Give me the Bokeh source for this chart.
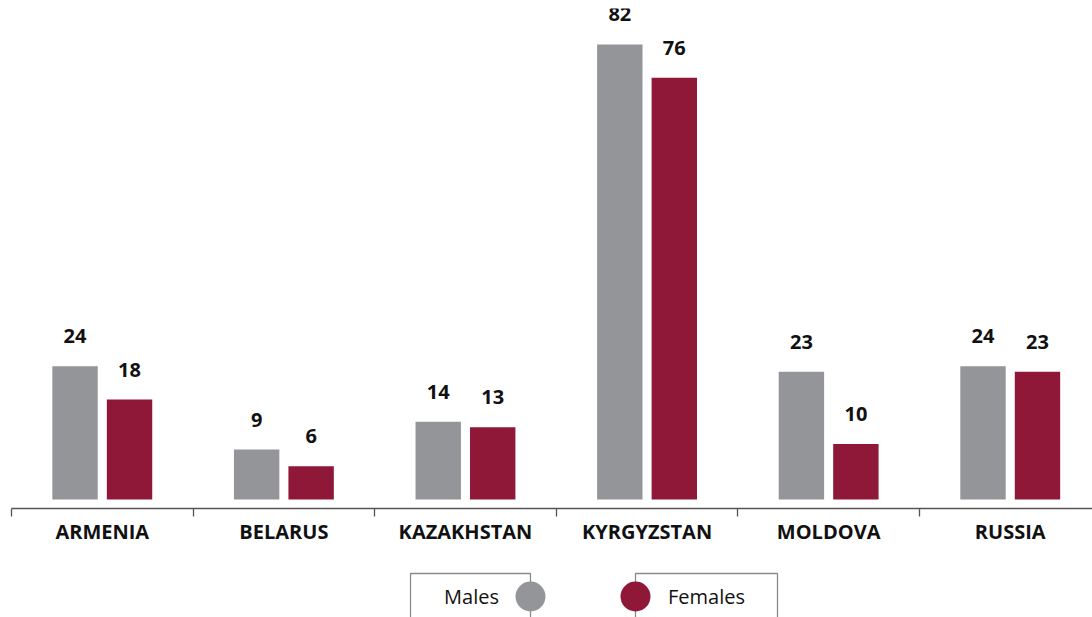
from bokeh.plotting import figure
from bokeh.models import ColumnDataSource, LabelSet, LinearAxis, FixedTicker, Range1d
from bokeh.layouts import column
from bokeh.core.properties import value
from bokeh.embed import file_html
from bokeh.resources import INLINE

# ---- data ----
countries = ["ARMENIA", "BELARUS", "KAZAKHSTAN", "KYRGYZSTAN", "MOLDOVA", "RUSSIA"]
males = [24, 9, 14, 82, 23, 24]
females = [18, 6, 13, 76, 10, 23]
series_names = ["Males", "Females"]

GRAY = "#939598"
MAROON = "#8F1838"
FONT = "Open Sans"

idx = list(range(len(countries)))
src_m = ColumnDataSource(dict(x=[i + 0.5 - 0.15 for i in idx], top=males,
                              lab=[str(v) for v in males]))
src_f = ColumnDataSource(dict(x=[i + 0.5 + 0.15 for i in idx], top=females,
                              lab=[str(v) for v in females]))

W = 1092
LEFT = 11
p = figure(width=W, height=560, output_backend="svg", toolbar_location=None,
           x_axis_type=None, y_axis_type=None,
           x_range=Range1d(0, 5.953), y_range=Range1d(-1.62, 88.47),
           min_border_left=LEFT, min_border_right=0, min_border_top=8,
           min_border_bottom=52)
p.outline_line_color = None
p.xgrid.visible = False
p.ygrid.visible = False

p.vbar(x="x", top="top", bottom=0, width=0.25, source=src_m, color=GRAY, line_color=None)
p.vbar(x="x", top="top", bottom=0, width=0.25, source=src_f, color=MAROON, line_color=None)

for s in (src_m, src_f):
    p.add_layout(LabelSet(x="x", y="top", text="lab", source=s, y_offset=23,
                          text_align="center", text_baseline="alphabetic",
                          text_font=value(FONT), text_font_style="bold",
                          text_font_size="20px", text_color="#111111"))

# tick axis with boundary ticks
ax1 = LinearAxis(ticker=FixedTicker(ticks=[i for i in range(len(countries) + 1)]))
ax1.axis_line_color = "#555555"
ax1.axis_line_width = 1.3
ax1.major_tick_line_color = "#555555"
ax1.major_tick_line_width = 1.3
ax1.major_tick_out = 8
ax1.major_tick_in = 0
ax1.minor_tick_line_color = None
ax1.major_label_text_font_size = "0px"
ax1.major_label_text_alpha = 0
ax1.major_label_standoff = 0
p.add_layout(ax1, "below")

# label axis with category names
ax2 = LinearAxis(ticker=FixedTicker(ticks=[i + 0.5 for i in idx]))
ax2.major_label_overrides = {i + 0.5: c for i, c in enumerate(countries)}
ax2.axis_line_color = None
ax2.major_tick_line_color = None
ax2.minor_tick_line_color = None
ax2.major_tick_out = 0
ax2.major_tick_in = 0
ax2.major_label_standoff = 1
ax2.major_label_text_font = FONT
ax2.major_label_text_font_style = "bold"
ax2.major_label_text_font_size = "20px"
ax2.major_label_text_color = "#111111"
p.add_layout(ax2, "below")

# ---- legend strip ----
LH = 57
leg = figure(width=W, height=LH, output_backend="svg", toolbar_location=None,
             x_axis_type=None, y_axis_type=None,
             x_range=Range1d(LEFT, W), y_range=Range1d(0, LH),
             min_border_left=LEFT, min_border_right=0, min_border_top=0, min_border_bottom=0)
leg.outline_line_color = None
leg.xgrid.visible = False
leg.ygrid.visible = False

box_top = 44
mid = 21
boxes = [(410, 530), (635, 777)]  # left/right edges of the two legend frames
circ_x = [530, 635]
text_x = [471, 706]
for (l, r) in boxes:
    leg.line([l, l, r, r], [-2, box_top, box_top, -2], line_color="#8a8a8a", line_width=1.3)
leg.scatter(circ_x, [mid, mid], size=30, marker="circle",
            fill_color=[GRAY, MAROON], line_color=None)
leg.text(text_x, [mid, mid], text=series_names, text_align="center",
         text_baseline="middle", text_font=value(FONT), text_font_size="20px",
         text_color="#111111")

layout = column(p, leg, spacing=0)
open("out.html", "w").write(file_html(layout, INLINE))
